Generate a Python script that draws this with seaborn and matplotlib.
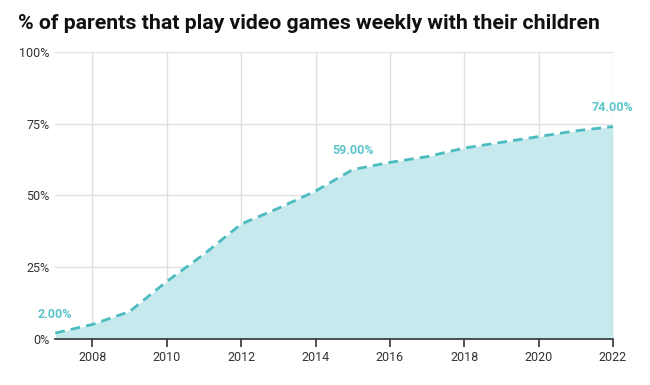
import numpy as np
import pandas as pd
import matplotlib
matplotlib.use("Agg")
import matplotlib.pyplot as plt
import seaborn as sns

# Data
years = [2007, 2008, 2009, 2010, 2011, 2012, 2013, 2014,
         2015, 2016, 2017, 2018, 2019, 2020, 2021, 2022]
share = [2, 5, 9.5, 20, 29.5, 40, 45.5, 51.5,
         59, 61.5, 63.5, 66.5, 68.5, 70.5, 72.5, 74]
labelled_years = [2007, 2015, 2022]
y_ticks = [0, 25, 50, 75, 100]
x_ticks = [2008, 2010, 2012, 2014, 2016, 2018, 2020, 2022]

LINE = "#4cbcc0"
FILL = "#c6e9ed"
LABEL = "#5cc5ca"

df = pd.DataFrame({"year": years, "share": share})

sns.set_style("white")
plt.rcParams["font.family"] = ["Roboto", "DejaVu Sans"]

fig = plt.figure(figsize=(6.5, 3.85), dpi=100)
ax = fig.add_axes([0.085, 0.12, 0.858, 0.745])

ax.fill_between(df["year"], df["share"], 0, color=FILL, lw=0, zorder=1)
sns.lineplot(data=df, x="year", y="share", ax=ax, color=LINE, lw=2,
             linestyle=(0, (3.5, 2.2)), zorder=3)

# Value labels
for yr in labelled_years:
    v = df.loc[df["year"] == yr, "share"].iloc[0]
    ax.annotate(f"{v:.2f}%", (yr, v), xytext=(0, 9), textcoords="offset points",
                ha="center", va="bottom", color=LABEL, fontsize=9, fontweight="bold",
                zorder=4)

ax.set_xlim(2007, 2022)
ax.set_ylim(0, 100)
ax.set_yticks(y_ticks)
ax.set_yticklabels([f"{t}%" for t in y_ticks])
ax.set_xticks(x_ticks)
ax.set_xticklabels([str(t) for t in x_ticks])

ax.grid(True, color="#dddddd", lw=1, zorder=2)
for g in ax.get_xgridlines() + ax.get_ygridlines():
    g.set_zorder(2)
    g.set_alpha(0.9)

for s in ["top", "left", "right"]:
    ax.spines[s].set_visible(False)
ax.spines["bottom"].set_color("#333333")
ax.spines["bottom"].set_linewidth(1.2)
ax.spines["bottom"].set_zorder(5)

ax.tick_params(axis="x", bottom=True, direction="out", length=6, width=1.2,
               color="#333333", labelsize=9, labelcolor="#333333", pad=3)
ax.tick_params(axis="y", left=False, length=0, labelsize=9, labelcolor="#333333", pad=4)
ax.set_xlabel("")
ax.set_ylabel("")

fig.text(0.028, 0.94, "% of parents that play video games weekly with their children",
         fontsize=15.3, fontweight="bold", color="#111111", va="center")

fig.savefig("out.png", dpi=100)
plt.close(fig)
